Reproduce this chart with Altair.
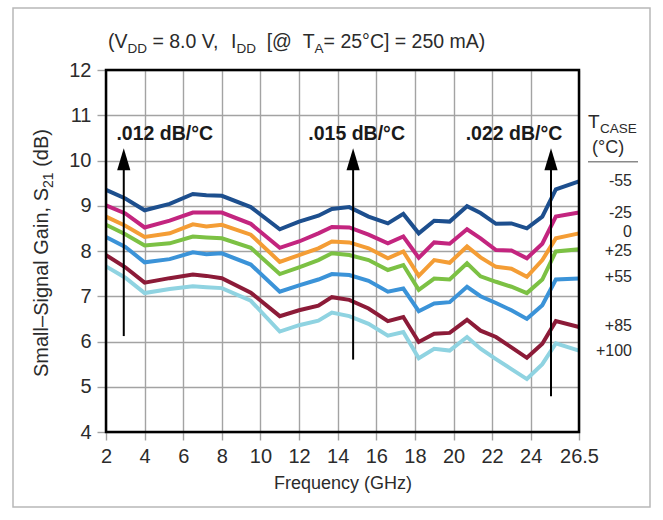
import altair as alt
import pandas as pd

FONT_N = "Liberation Sans Narrow, Arial Narrow, Liberation Sans"
FONT = "Liberation Sans, Arial"
TXT = "#2b2b2b"
GRID = "#a3a3a3"

# ---- data ----
freq = [2, 3, 4, 5.3, 6.5, 7.2, 8, 9.5, 11, 12, 13, 13.7, 14.6, 15.6, 16.6,
        17.4, 18.2, 19, 19.8, 20.7, 21.4, 22.2, 23, 23.8, 24.6, 25.3, 26.5]
tcase = ["-55", "-25", "0", "+25", "+55", "+85", "+100"]
gain_m55 = [9.35, 9.16, 8.90, 9.04, 9.26, 9.23, 9.22, 8.97, 8.48, 8.65, 8.78, 8.93, 8.97, 8.76, 8.61,
            8.82, 8.39, 8.67, 8.65, 8.99, 8.84, 8.60, 8.61, 8.50, 8.76, 9.36, 9.54]
gain_m25 = [9.01, 8.83, 8.52, 8.67, 8.85, 8.85, 8.85, 8.60, 8.07, 8.21, 8.39, 8.53, 8.52, 8.36, 8.17,
            8.32, 7.85, 8.19, 8.16, 8.48, 8.28, 8.02, 8.01, 7.84, 8.16, 8.76, 8.85]
gain_0 = [8.76, 8.56, 8.31, 8.39, 8.59, 8.54, 8.58, 8.36, 7.76, 7.91, 8.06, 8.21, 8.19, 8.06, 7.84,
          7.99, 7.45, 7.80, 7.74, 8.10, 7.86, 7.65, 7.61, 7.43, 7.80, 8.28, 8.39]
gain_p25 = [8.58, 8.37, 8.12, 8.17, 8.32, 8.30, 8.28, 8.07, 7.49, 7.64, 7.80, 7.95, 7.91, 7.80, 7.58,
            7.69, 7.14, 7.39, 7.37, 7.73, 7.44, 7.32, 7.21, 7.07, 7.37, 7.99, 8.04]
gain_p55 = [8.31, 8.09, 7.75, 7.82, 7.97, 7.93, 7.95, 7.70, 7.10, 7.24, 7.37, 7.49, 7.47, 7.34, 7.10,
            7.17, 6.67, 6.84, 6.87, 7.21, 7.00, 6.85, 6.69, 6.50, 6.80, 7.37, 7.39]
gain_p85 = [7.91, 7.64, 7.30, 7.40, 7.48, 7.45, 7.40, 7.08, 6.56, 6.69, 6.79, 6.98, 6.92, 6.73, 6.45,
            6.54, 5.99, 6.17, 6.19, 6.48, 6.24, 6.10, 5.87, 5.64, 5.95, 6.45, 6.32]
gain_p100 = [7.66, 7.41, 7.07, 7.16, 7.22, 7.20, 7.18, 6.90, 6.22, 6.36, 6.46, 6.64, 6.56, 6.39, 6.13,
             6.21, 5.63, 5.84, 5.80, 6.10, 5.84, 5.61, 5.39, 5.17, 5.50, 5.96, 5.80]
colors = ["#1d4f8e", "#c3257f", "#f49d35", "#7cc144", "#3b93d8", "#8c1b38", "#8fd3e1"]
label_gain = [9.54, 8.83, 8.41, 7.99, 7.42, 6.34, 5.80]

x_ticks = [2, 4, 6, 8, 10, 12, 14, 16, 18, 20, 22, 24, 26.5]
y_ticks = [4, 5, 6, 7, 8, 9, 10, 11, 12]

arrow_freq = [2.92, 14.8, 25.05]
arrow_low = [6.12, 5.6, 4.79]
arrow_high = [10.03, 10.03, 10.03]
note_text = [".012 dB/°C", ".015 dB/°C", ".022 dB/°C"]
note_freq = [2.54, 12.48, 20.63]
note_gain = [10.45, 10.45, 10.45]

W, H = 473, 362

series = [gain_m55, gain_m25, gain_0, gain_p25, gain_p55, gain_p85, gain_p100]
rows = []
for t, vals in zip(tcase, series):
    for f, v in zip(freq, vals):
        rows.append({"freq": f, "gain": v, "tcase": t})
df = pd.DataFrame(rows)

xs = alt.Scale(domain=[2, 26.5], nice=False, zero=False)
ys = alt.Scale(domain=[4, 12], nice=False, zero=False)

x_axis = alt.Axis(values=x_ticks, labelExpr="'' + datum.value", grid=True, gridColor=GRID,
                  gridWidth=1.4, domain=False, tickColor=GRID, tickWidth=1.4, tickSize=8,
                  labelFont=FONT_N, labelFontSize=20, labelColor=TXT, labelPadding=6,
                  labelFlush=False, labelOverlap=False,
                  titleFont=FONT, titleFontSize=18, titleFontWeight="normal",
                  titleColor=TXT, titlePadding=8)
y_axis = alt.Axis(values=y_ticks, format="d", grid=True, gridColor=GRID, gridWidth=1.4,
                  domain=False, tickColor=GRID, tickWidth=1.4, tickSize=9,
                  labelFont=FONT_N, labelFontSize=20, labelColor=TXT, labelPadding=6,
                  labelOverlap=False)


def X():
    return alt.X("freq:Q", scale=xs, axis=x_axis, title="Frequency (GHz)")


def Y():
    return alt.Y("gain:Q", scale=ys, axis=y_axis, title=None)


lines = alt.Chart(df).mark_line(strokeWidth=4).encode(
    x=X(), y=Y(),
    color=alt.Color("tcase:N", scale=alt.Scale(domain=tcase, range=colors), legend=None),
)

arrows_df = pd.DataFrame({"freq": arrow_freq, "gain": arrow_low, "gain2": arrow_high})
arrow_rules = alt.Chart(arrows_df).mark_rule(color="black", strokeWidth=2).encode(
    x=X(), y=Y(), y2=alt.Y2("gain2:Q"))
heads_df = pd.DataFrame({"freq": arrow_freq, "gain": arrow_high})
arrow_heads = alt.Chart(heads_df).mark_point(
    shape="M0,-1L0.6,1L-0.6,1Z", size=484, filled=True, color="black", opacity=1
).encode(x=X(), y=Y())

notes_df = pd.DataFrame({"freq": note_freq, "gain": note_gain, "note": note_text})
notes = alt.Chart(notes_df).mark_text(
    align="left", baseline="alphabetic", font=FONT, fontSize=19.5, fontWeight="bold", color="#1a1a1a"
).encode(x=X(), y=Y(), text="note:N")

lab_df = pd.DataFrame({"gain": label_gain, "lab": tcase})
labels = alt.Chart(lab_df).mark_text(
    align="right", baseline="middle", font=FONT, fontSize=16, color=TXT
).encode(x=alt.value(W + 53), y=Y(), text="lab:N")

frame = alt.Chart(pd.DataFrame({"k": [0]})).mark_rect(
    fillOpacity=0, stroke="black", strokeWidth=2.5
).encode(x=alt.value(0), x2=alt.value(W), y=alt.value(0), y2=alt.value(H))

outer = alt.Chart(pd.DataFrame({"k": [0]})).mark_rect(
    fillOpacity=0, stroke="#b8b8b8", strokeWidth=1.5
).encode(x=alt.value(-93), x2=alt.value(544), y=alt.value(-62), y2=alt.value(437))

# text pieces (main text and subscripts) for title, y title and legend heading
pieces = [
    ("(V", 2, -22, 19.5, 0), ("DD", 21.5, -17, 13.5, 0), ("= 8.0 V,", 46.4, -22, 19.5, 0),
    ("I", 125, -22, 19.5, 0), ("DD", 130.4, -17, 13.5, 0), ("[@", 160.7, -22, 19.5, 0),
    ("T", 196.7, -22, 19.5, 0), ("A", 208.6, -17, 13.5, 0),
    ("= 25°C] = 250 mA)", 217.6, -22, 19.5, 0),
    ("Small–Signal Gain, S", -58, 307, 20, 270), ("21", -53, 118, 14, 270),
    ("(dB)", -58, 96.8, 20, 270),
    ("T", 482, 58, 19, 0), ("CASE", 494, 63, 13.5, 0), ("(°C)", 486, 83, 18, 0),
]
text_layers = []
for txt, px, py, fs, ang in pieces:
    kw = dict(align="left", baseline="alphabetic", font=FONT, fontSize=fs, color=TXT)
    if ang:
        kw["angle"] = ang
    text_layers.append(
        alt.Chart(pd.DataFrame({"t": [txt]})).mark_text(**kw).encode(
            x=alt.value(px), y=alt.value(py), text="t:N"))

heading_rule = alt.Chart(pd.DataFrame({"k": [0]})).mark_rule(color="#8a8a8a", strokeWidth=1.5).encode(
    x=alt.value(482), x2=alt.value(532), y=alt.value(91.7))

chart = alt.layer(
    lines, arrow_rules, arrow_heads, notes, labels, frame, outer, heading_rule, *text_layers
).properties(
    width=W, height=H,
    padding={"left": 106, "top": 70, "right": 84, "bottom": 88},
    autosize=alt.AutoSizeParams(type="none"),
    background="white",
).configure_view(strokeWidth=0)

chart.save("out.html", embed_options={"renderer": "svg", "actions": False})
